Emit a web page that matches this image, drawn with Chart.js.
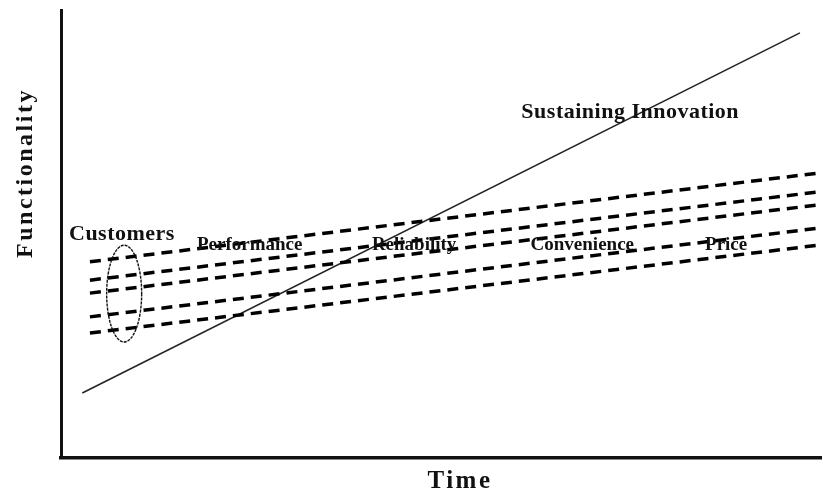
<!DOCTYPE html>
<html>
<head>
<meta charset="utf-8">
<script src="https://cdn.jsdelivr.net/npm/chart.js@4.4.1/dist/chart.umd.min.js"></script>
<style>
body { margin: 0; background: #fff; }
#wrap { width: 822px; height: 496px; }
</style>
</head>
<body>
<div id="wrap"><canvas id="chart" width="822" height="496"></canvas></div>
<script>
/* DATA */

// customer segments (dashed lines), time goes 0..100
const segmentTime = [3.8, 100];
const segmentStart = [43.8, 39.7, 36.8, 31.5, 27.9];
const segmentEnd = [63.7, 59.5, 56.6, 51.4, 47.6];

// sustaining innovation trajectory
const sustainingTime = [2.8, 97.1];
const sustainingValue = [14.5, 94.9];

// attributes written along the segments
const attributes = ["Performance", "Reliability", "Convenience", "Price"];
const attributeTime = [24.8, 46.4, 68.5, 87.4];
const attributeValue = [46.4, 46.4, 46.4, 46.4];

// customers ellipse (centre and radii in data units)
const customersCentre = [8.3, 36.7];
const customersRadius = [2.3, 10.8];

const axisTitles = ["Time", "Functionality"];

/* DATASETS */

const datasets = segmentStart.map((s, i) => ({
  label: "Segment " + (i + 1),
  data: [
    { x: segmentTime[0], y: s },
    { x: segmentTime[1], y: segmentEnd[i] }
  ],
  showLine: true,
  borderColor: "#000",
  borderWidth: 3.5,
  borderDash: [11, 7],
  pointRadius: 0
}));

datasets.push({
  label: "Sustaining Innovation",
  data: sustainingTime.map((t, i) => ({ x: t, y: sustainingValue[i] })),
  showLine: true,
  borderColor: "#222",
  borderWidth: 1.5,
  pointRadius: 0
});

/* TEXT + ELLIPSE */

const drawExtras = {
  id: "extras",
  afterDatasetsDraw(chart) {
    const ctx = chart.ctx;
    const xs = chart.scales.x;
    const ys = chart.scales.y;
    const area = chart.chartArea;

    ctx.save();

    // customers ellipse
    const cx = xs.getPixelForValue(customersCentre[0]);
    const cy = ys.getPixelForValue(customersCentre[1]);
    const rx = xs.getPixelForValue(customersCentre[0] + customersRadius[0]) - cx;
    const ry = cy - ys.getPixelForValue(customersCentre[1] + customersRadius[1]);
    ctx.beginPath();
    ctx.ellipse(cx, cy, rx, ry, 0, 0, Math.PI * 2);
    ctx.strokeStyle = "#111";
    ctx.lineWidth = 1.4;
    ctx.setLineDash([3, 1]);
    ctx.stroke();
    ctx.setLineDash([]);

    ctx.fillStyle = "#111";
    ctx.textBaseline = "alphabetic";

    // attribute labels
    ctx.font = "bold 19px 'Liberation Serif'";
    ctx.textAlign = "center";
    ctx.letterSpacing = "0px";
    attributes.forEach((a, i) => {
      ctx.fillText(a, xs.getPixelForValue(attributeTime[i]), ys.getPixelForValue(attributeValue[i]));
    });

    // customers label
    ctx.font = "bold 22px 'Liberation Serif'";
    ctx.letterSpacing = "0.5px";
    ctx.textAlign = "left";
    ctx.fillText("Customers", xs.getPixelForValue(1.05), ys.getPixelForValue(48.7));

    // sustaining innovation label
    ctx.textAlign = "center";
    ctx.fillText("Sustaining Innovation", xs.getPixelForValue(74.8), ys.getPixelForValue(75.9));

    // axis titles
    ctx.font = "bold 25px 'Liberation Serif'";
    ctx.letterSpacing = "2.5px";
    ctx.fillText(axisTitles[0], 460, area.bottom + 30);

    ctx.translate(area.left - 29, 173);
    ctx.rotate(-Math.PI / 2);
    ctx.font = "bold 24px 'Liberation Serif'";
    ctx.fillText(axisTitles[1], 0, 0);

    ctx.restore();
  }
};

new Chart(document.getElementById("chart"), {

type: "scatter",

data: { datasets: datasets },

options: {
  responsive: false,
  animation: false,
  devicePixelRatio: 1,
  layout: {
    padding: { left: 61, top: 10, right: 0, bottom: 38 }
  },
  plugins: {
    legend: { display: false },
    tooltip: { enabled: false }
  },
  scales: {
    x: {
      type: "linear",
      min: 0,
      max: 100,
      ticks: { display: false },
      grid: { display: false, drawTicks: false },
      border: { display: true, color: "#111", width: 3.5 }
    },
    y: {
      type: "linear",
      min: 0,
      max: 100,
      ticks: { display: false },
      grid: { display: false, drawTicks: false },
      border: { display: true, color: "#111", width: 3 }
    }
  }
},

plugins: [drawExtras]

});
</script>
</body>
</html>
